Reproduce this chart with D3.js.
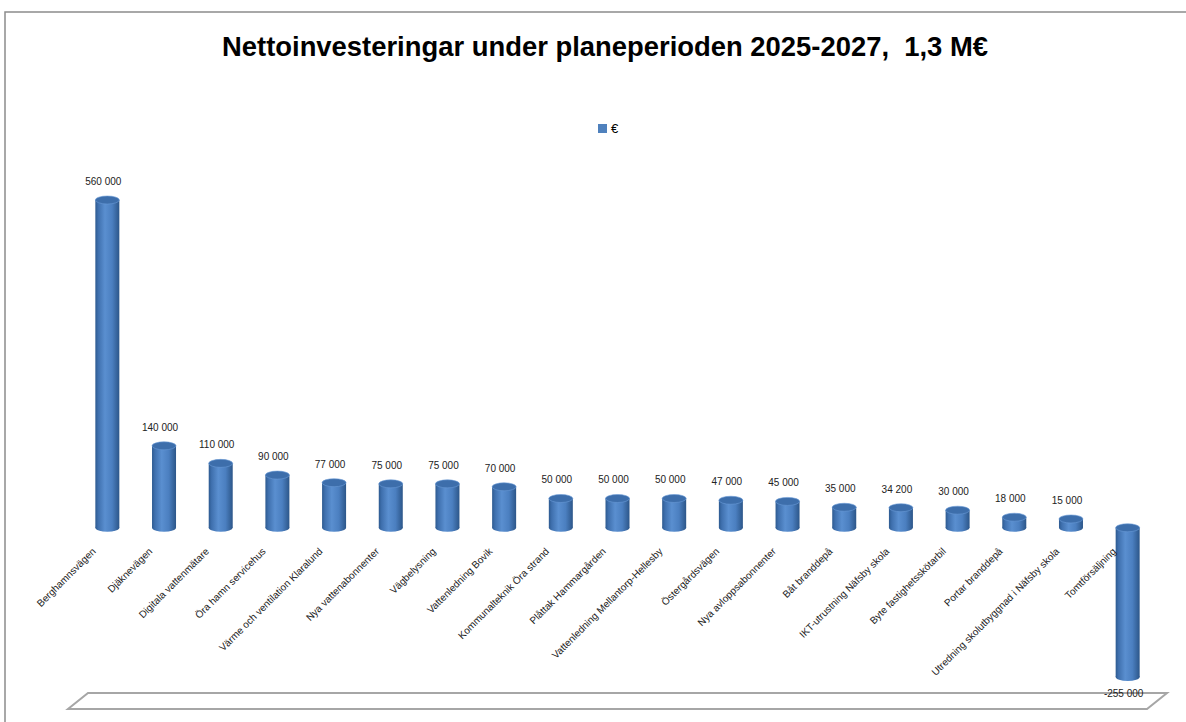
<!DOCTYPE html>
<html>
<head>
<meta charset="utf-8">
<script src="https://cdnjs.cloudflare.com/ajax/libs/d3/7.8.5/d3.min.js"></script>
<style>
  body { margin: 0; background: #fff; }
  text { font-family: "Liberation Sans", Arial, sans-serif; }
</style>
</head>
<body>
<div id="chart"></div>
<script>
// data
var categories = [
  "Berghamnsvägen", "Djäknevägen", "Digitala vattenmätare", "Öra hamn servicehus",
  "Värme och ventilation Klaralund", "Nya vattenabonnenter", "Vägbelysning",
  "Vattenledning Bovik", "Kommunalteknik Öra strand", "Plåttak Hammargården",
  "Vattenledning Mellantorp-Hellesby", "Östergårdsvägen", "Nya avloppsabonnenter",
  "Båt branddepå", "IKT-utrustning Näfsby skola", "Byte fastighetsskötarbil",
  "Portar branddepå", "Utredning skolutbyggnad i Näfsby skola", "Tomtförsäljning"
];
var values = [560000, 140000, 110000, 90000, 77000, 75000, 75000, 70000, 50000, 50000,
  50000, 47000, 45000, 35000, 34200, 30000, 18000, 15000, -255000];
var seriesName = "€";
var title = "Nettoinvesteringar under planeperioden 2025-2027,  1,3 M€";

var width = 1186, height = 722;
var svg = d3.select("#chart").append("svg")
  .attr("width", width)
  .attr("height", height);

var defs = svg.append("defs");
var grad = defs.append("linearGradient").attr("id", "cyl")
  .attr("x1", "0%").attr("x2", "100%").attr("y1", "0%").attr("y2", "0%");
grad.append("stop").attr("offset", "0%").attr("stop-color", "#2d5a90");
grad.append("stop").attr("offset", "12%").attr("stop-color", "#3f70ae");
grad.append("stop").attr("offset", "40%").attr("stop-color", "#5a8fd0");
grad.append("stop").attr("offset", "70%").attr("stop-color", "#4b7fc0");
grad.append("stop").attr("offset", "100%").attr("stop-color", "#2c5689");

// outer border
svg.append("rect")
  .attr("x", 5).attr("y", 12)
  .attr("width", 1200).attr("height", 730)
  .attr("fill", "none")
  .attr("stroke", "#8c8c8c")
  .attr("stroke-width", 1.5);

svg.append("text")
  .attr("x", 605).attr("y", 56)
  .attr("text-anchor", "middle")
  .attr("font-size", 27)
  .attr("font-weight", "bold")
  .attr("textLength", 766)
  .attr("lengthAdjust", "spacingAndGlyphs")
  .style("white-space", "pre")
  .text(title);

// legend
svg.append("rect").attr("x", 598).attr("y", 124).attr("width", 9).attr("height", 9).attr("fill", "#4f81bd");
svg.append("text").attr("x", 611).attr("y", 133).attr("font-size", 13).text(seriesName);

var x = d3.scaleBand().domain(categories).range([79, 1156]);
var y = d3.scaleLinear().domain([-255000, 560000]).range([677, 200]);
var bw = 24, ry = 4;
var fmt = function (v) { return d3.format(",")(v).replace(/,/g, " ").replace("\u2212", "-"); };

// floor
svg.append("polygon")
  .attr("points", [[88, 693], [1167, 693], [1147, 709], [68, 709]].map(function (p) { return p.join(","); }).join(" "))
  .attr("fill", "#fff")
  .attr("stroke", "#a6a6a6")
  .attr("stroke-width", 2);

var bars = svg.append("g").selectAll("g")
  .data(categories)
  .enter()
  .append("g");

bars.each(function (c, i) {
  var g = d3.select(this);
  var cx = x(c) + x.bandwidth() / 2;
  var v = values[i];
  var top = Math.min(y(v), y(0)), bot = Math.max(y(v), y(0));
  g.append("ellipse").attr("cx", cx).attr("cy", bot).attr("rx", bw / 2).attr("ry", ry)
    .attr("fill", "url(#cyl)");
  g.append("rect").attr("x", cx - bw / 2).attr("y", top).attr("width", bw).attr("height", bot - top)
    .attr("fill", "url(#cyl)");
  g.append("ellipse").attr("cx", cx).attr("cy", top).attr("rx", bw / 2).attr("ry", ry)
    .attr("fill", "#3d6eab")
    .attr("stroke", "#6a9ad6").attr("stroke-width", 0.6);
});

// value labels
svg.append("g").selectAll("text")
  .data(categories)
  .enter()
  .append("text")
  .attr("x", function (c) { return x(c) + x.bandwidth() / 2 - 4; })
  .attr("y", function (c, i) { return values[i] >= 0 ? y(values[i]) - 15 : y(values[i]) + 20; })
  .attr("text-anchor", "middle")
  .attr("font-size", 10)
  .attr("fill", "#222")
  .text(function (c, i) { return fmt(values[i]); });

// category labels
svg.append("g").selectAll("text")
  .data(categories)
  .enter()
  .append("text")
  .attr("transform", function (c) {
    return "translate(" + (x(c) + x.bandwidth() / 2 - 11) + ",552) rotate(-45)";
  })
  .attr("text-anchor", "end")
  .attr("font-size", 10)
  .attr("fill", "#222")
  .text(function (c) { return c; });
</script>
</body>
</html>
